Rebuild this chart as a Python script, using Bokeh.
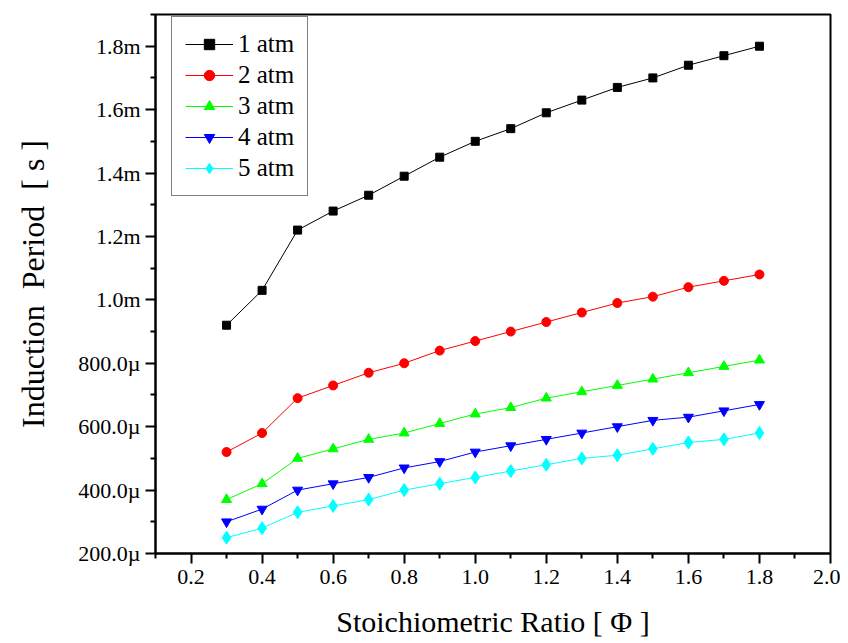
from bokeh.plotting import figure
from bokeh.models import (ColumnDataSource, Range1d, FixedTicker, CustomJSTickFormatter,
                          Legend, LegendItem)
from bokeh.embed import file_html
from bokeh.resources import INLINE

# ---- data (induction period in milliseconds) ----
phi = [0.3, 0.4, 0.5, 0.6, 0.7, 0.8, 0.9, 1.0, 1.1, 1.2, 1.3, 1.4, 1.5, 1.6, 1.7, 1.8]
ip_1atm_ms = [0.92, 1.03, 1.22, 1.28, 1.33, 1.39, 1.45, 1.50, 1.54, 1.59, 1.63, 1.67, 1.70, 1.74, 1.77, 1.80]
ip_2atm_ms = [0.52, 0.58, 0.69, 0.73, 0.77, 0.80, 0.84, 0.87, 0.90, 0.93, 0.96, 0.99, 1.01, 1.04, 1.06, 1.08]
ip_3atm_ms = [0.37, 0.42, 0.50, 0.53, 0.56, 0.58, 0.61, 0.64, 0.66, 0.69, 0.71, 0.73, 0.75, 0.77, 0.79, 0.81]
ip_4atm_ms = [0.30, 0.34, 0.40, 0.42, 0.44, 0.47, 0.49, 0.52, 0.54, 0.56, 0.58, 0.60, 0.62, 0.63, 0.65, 0.67]
ip_5atm_ms = [0.25, 0.28, 0.33, 0.35, 0.37, 0.40, 0.42, 0.44, 0.46, 0.48, 0.50, 0.51, 0.53, 0.55, 0.56, 0.58]

series_names = ["1 atm", "2 atm", "3 atm", "4 atm", "5 atm"]

x_major_ticks = [0.2, 0.4, 0.6, 0.8, 1.0, 1.2, 1.4, 1.6, 1.8, 2.0]
x_minor_ticks = [0.1, 0.3, 0.5, 0.7, 0.9, 1.1, 1.3, 1.5, 1.7, 1.9]
y_major_ticks_ms = [0.2, 0.4, 0.6, 0.8, 1.0, 1.2, 1.4, 1.6, 1.8]
y_minor_ticks_ms = [0.3, 0.5, 0.7, 0.9, 1.1, 1.3, 1.5, 1.7, 1.9]

colors = ["#000000", "#FF0000", "#00FF00", "#0000FF", "#00FFFF"]
markers = ["square", "circle", "triangle", "inverted_triangle", "diamond"]
sizes = [8, 9, 10, 10, 13]

FONT = "Liberation Serif"

p = figure(width=840, height=640, output_backend="svg", toolbar_location=None,
           x_range=Range1d(0.1, 2.0), y_range=Range1d(0.2e-3, 1.9e-3),
           min_border_left=155, min_border_right=10, min_border_top=14, min_border_bottom=85)
p.background_fill_color = "white"
p.border_fill_color = "white"
p.xgrid.visible = False
p.ygrid.visible = False
p.outline_line_color = "black"
p.outline_line_width = 2

all_series = [ip_1atm_ms, ip_2atm_ms, ip_3atm_ms, ip_4atm_ms, ip_5atm_ms]
items = []
for name, vals, c, m, s in zip(series_names, all_series, colors, markers, sizes):
    src = ColumnDataSource(dict(x=phi, y=[v * 1e-3 for v in vals]))
    ln = p.line("x", "y", source=src, line_color=c, line_width=1)
    sc = p.scatter("x", "y", source=src, marker=m, size=s, fill_color=c, line_color=c)
    items.append(LegendItem(label=name, renderers=[ln, sc]))

# axes
p.xaxis.ticker = FixedTicker(ticks=x_major_ticks, minor_ticks=x_minor_ticks)
p.yaxis.ticker = FixedTicker(ticks=[t * 1e-3 for t in y_major_ticks_ms],
                             minor_ticks=[t * 1e-3 for t in y_minor_ticks_ms])
p.yaxis.formatter = CustomJSTickFormatter(code="""
const ms = Math.round(tick * 1e4) / 10;
if (ms >= 1) { return ms.toFixed(1) + "m"; }
return (ms * 1000).toFixed(1) + "\u00b5";
""")
p.xaxis.formatter = CustomJSTickFormatter(code="return tick.toFixed(1);")

for ax in (p.xaxis, p.yaxis):
    ax.axis_line_width = 2
    ax.axis_line_color = "black"
    ax.major_tick_line_width = 2
    ax.minor_tick_line_width = 2
    ax.major_tick_out = 10
    ax.major_tick_in = 0
    ax.minor_tick_out = 5
    ax.minor_tick_in = 0
    ax.major_label_text_font = FONT
    ax.major_label_text_font_size = "22px"
    ax.major_label_text_color = "black"
    ax.axis_label_text_font = FONT
    ax.axis_label_text_font_style = "normal"
    ax.axis_label_text_color = "black"

p.xaxis.axis_label_text_font_size = "30px"
p.yaxis.axis_label_text_font_size = "32px"
p.xaxis.axis_label = "Stoichiometric Ratio [ \u03a6 ]"
p.yaxis.axis_label = "Induction\u00a0\u00a0Period\u00a0\u00a0[ s ]"
p.xaxis.major_label_standoff = 6
p.yaxis.major_label_standoff = 5
p.xaxis.axis_label_standoff = 18
p.yaxis.axis_label_standoff = 24

legend = Legend(items=items, location=(16, 357))
legend.label_text_font = FONT
legend.label_text_font_size = "25px"
legend.label_text_color = "black"
legend.glyph_width = 48
legend.glyph_height = 26
legend.spacing = 3
legend.padding = 13
legend.label_standoff = 5
legend.border_line_color = "black"
legend.border_line_width = 1.5
legend.background_fill_color = "white"
legend.background_fill_alpha = 1
legend.margin = 0
p.add_layout(legend)

open("out.html", "w").write(file_html(p, INLINE))
